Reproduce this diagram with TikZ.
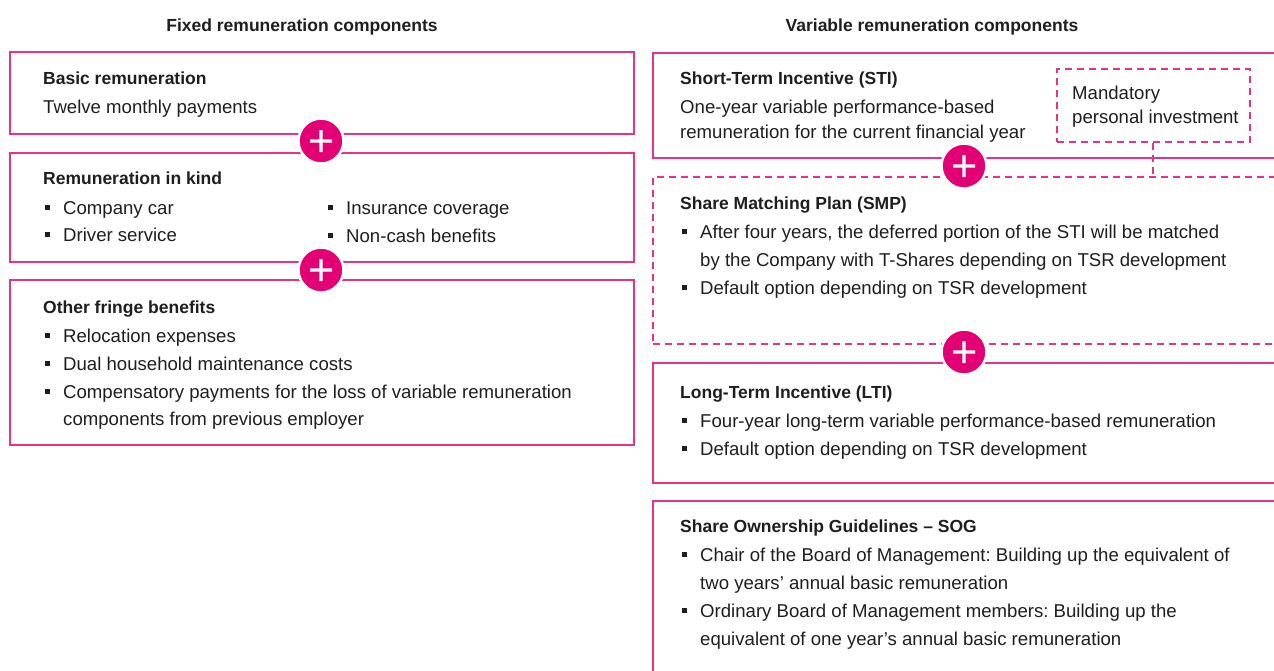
\documentclass[tikz,border=0pt]{standalone}
\usepackage{fontspec}
\setmainfont{Liberation Sans}
\frenchspacing
\definecolor{tmag}{HTML}{E20074}
\definecolor{tbord}{HTML}{E4338C}
\definecolor{tx}{HTML}{1E1E1E}
\newcommand\myitem[4]{%
  \node[bul] (#1-b) at ({#2-16},{#3-6.5}) {};
  \node[txt] (#1) at (#2,#3) {#4};}
\begin{document}
\begin{tikzpicture}[x=1pt,y=-1pt,
  box/.style={draw=tbord, line width=1.6pt, rectangle, inner sep=0pt, anchor=north west},
  dbox/.style={box, dash pattern=on 7pt off 5pt},
  plus/.style={circle, fill=tmag, draw=white, line width=2.5pt, minimum size=45pt, inner sep=0pt,
    path picture={\fill[white]
      ([xshift=-11pt,yshift=-1.6pt]path picture bounding box.center) rectangle ([xshift=11pt,yshift=1.6pt]path picture bounding box.center)
      ([xshift=-1.6pt,yshift=-11pt]path picture bounding box.center) rectangle ([xshift=1.6pt,yshift=11pt]path picture bounding box.center);}},
  hdr/.style={font=\bfseries\fontsize{17.5}{21}\selectfont, text=tx, anchor=base, inner sep=0pt},
  ttl/.style={font=\bfseries\fontsize{17.5}{21}\selectfont, text=tx, anchor=base west, inner sep=0pt},
  txt/.style={font=\fontsize{18.6}{22}\selectfont, text=tx, anchor=base west, inner sep=0pt},
  bul/.style={rectangle, fill=tx, minimum size=5pt, inner sep=0pt}]
\useasboundingbox (0,0) rectangle (1274,670);
\clip (0,0) rectangle (1274,670);

% headers
\node[hdr] (h1) at (302,31) {Fixed remuneration components};
\node[hdr] (h2) at (932,31) {Variable remuneration components};

% left boxes
\node[box, minimum width=624pt, minimum height=82pt] (b1) at (9,51) {};
\node[box, minimum width=624pt, minimum height=109pt] (b2) at (9,152) {};
\node[box, minimum width=624pt, minimum height=165pt] (b3) at (9,279) {};

% right boxes
\node[box, minimum width=660pt, minimum height=105pt] (sti) at (652,52) {};
\node[dbox, minimum width=660pt, minimum height=167pt] (smp) at (652,176) {};
\node[box, minimum width=660pt, minimum height=120pt] (lti) at (652,362) {};
\node[box, minimum width=660pt, minimum height=220pt] (sog) at (652,500) {};
\node[dbox, minimum width=193pt, minimum height=73pt] (mand) at (1056,68) {};
\coordinate (mc) at ([xshift=-0.5pt]mand.south);
\draw[draw=tbord, line width=2pt, dash pattern=on 7pt off 5pt, line cap=butt] (mc) -- (mc |- smp.north);

% plus signs
\node[plus] (p1) at (321,141) {};
\node[plus] (p2) at (321,270) {};
\node[plus] (p3) at (964,166) {};
\node[plus] (p4) at (964,352) {};

% left texts
\node[ttl] (t1) at (43,84) {Basic remuneration};
\node[txt] (t1a) at (43,113) {Twelve monthly payments};
\node[ttl] (t2) at (43,184) {Remuneration in kind};
\myitem{t2a}{63}{214}{Company car}
\myitem{t2b}{63}{241}{Driver service}
\myitem{t2c}{346}{214}{Insurance coverage}
\myitem{t2d}{346}{242}{Non-cash benefits}
\node[ttl] (t3) at (43,313) {Other fringe benefits};
\myitem{t3a}{63}{342}{Relocation expenses}
\myitem{t3b}{63}{370}{Dual household maintenance costs}
\myitem{t3c}{63}{398}{Compensatory payments for the loss of variable remuneration}
\node[txt] (t3d) at (63,425) {components from previous employer};

% right texts
\node[ttl] (r1) at (680,84) {Short-Term Incentive (STI)};
\node[txt] (r1a) at (680,113) {One-year variable performance-based};
\node[txt] (r1b) at (680,138) {remuneration for the current financial year};
\node[txt] (m1) at (1072,99) {Mandatory};
\node[txt] (m2) at (1072,123) {personal investment};
\node[ttl] (r2) at (680,209) {Share Matching Plan (SMP)};
\myitem{r2a}{700}{238}{After four years, the deferred portion of the STI will be matched}
\node[txt] (r2b) at (700,266) {by the Company with T-Shares depending on TSR development};
\myitem{r2c}{700}{294}{Default option depending on TSR development}
\node[ttl] (r3) at (680,398) {Long-Term Incentive (LTI)};
\myitem{r3a}{700}{427}{Four-year long-term variable performance-based remuneration}
\myitem{r3b}{700}{455}{Default option depending on TSR development}
\node[ttl] (r4) at (680,532) {Share Ownership Guidelines – SOG};
\myitem{r4a}{700}{561}{Chair of the Board of Management: Building up the equivalent of}
\node[txt] (r4b) at (700,589) {two years’ annual basic remuneration};
\myitem{r4c}{700}{617}{Ordinary Board of Management members: Building up the}
\node[txt] (r4d) at (700,645) {equivalent of one year’s annual basic remuneration};
\end{tikzpicture}
\end{document}
